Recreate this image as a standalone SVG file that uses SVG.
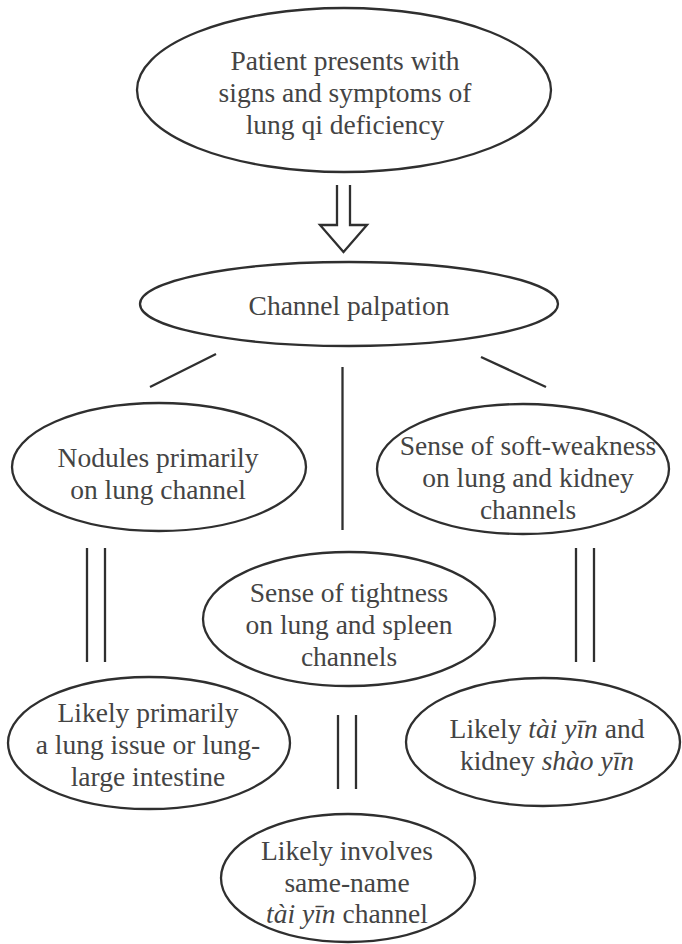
<svg xmlns="http://www.w3.org/2000/svg" width="682" height="944" viewBox="0 0 682 944">
  <style>
    .node ellipse { fill: #ffffff; stroke: #2f2f2f; stroke-width: 2.3; }
    .node text { font-family: "Liberation Serif", "Times New Roman", serif; font-size: 27.5px; fill: #444444; text-anchor: middle; }
    .it { font-style: italic; }
    .link { stroke: #2f2f2f; stroke-width: 2.3; fill: none; }
  </style>
  <rect width="682" height="944" fill="#ffffff"/>

  <!-- connectors -->
  <g id="connectors">
    <path class="link" d="M337,185 V225 H320 L343.5,252 L367,225 H350 V185"/>
    <line class="link" x1="216" y1="354" x2="150" y2="387"/>
    <line class="link" x1="342.5" y1="367" x2="342.5" y2="530"/>
    <line class="link" x1="481" y1="357" x2="546" y2="387"/>
    <line class="link" x1="87" y1="548" x2="87" y2="662"/>
    <line class="link" x1="105" y1="548" x2="105" y2="662"/>
    <line class="link" x1="576" y1="548" x2="576" y2="662"/>
    <line class="link" x1="594" y1="548" x2="594" y2="662"/>
    <line class="link" x1="338" y1="715" x2="338" y2="789"/>
    <line class="link" x1="356" y1="715" x2="356" y2="789"/>
  </g>

  <g id="patient" class="node">
    <ellipse cx="344" cy="90" rx="207" ry="82"/>
    <text x="345" y="70">Patient presents with</text>
    <text x="345" y="102">signs and symptoms of</text>
    <text x="345" y="134">lung qi deficiency</text>
  </g>

  <g id="palpation" class="node">
    <ellipse cx="349" cy="304" rx="209" ry="42"/>
    <text x="349" y="315">Channel palpation</text>
  </g>

  <g id="nodules" class="node">
    <ellipse cx="159" cy="467" rx="147" ry="64"/>
    <text x="158" y="467">Nodules primarily</text>
    <text x="158" y="499">on lung channel</text>
  </g>

  <g id="soft-weakness" class="node">
    <ellipse cx="523" cy="469" rx="146" ry="65"/>
    <text x="528" y="455">Sense of soft-weakness</text>
    <text x="528" y="487">on lung and kidney</text>
    <text x="528" y="519">channels</text>
  </g>

  <g id="tightness" class="node">
    <ellipse cx="349" cy="619" rx="146" ry="67"/>
    <text x="349" y="602">Sense of tightness</text>
    <text x="349" y="634">on lung and spleen</text>
    <text x="349" y="666">channels</text>
  </g>

  <g id="lung-issue" class="node">
    <ellipse cx="149" cy="743" rx="141" ry="66"/>
    <text x="148" y="722">Likely primarily</text>
    <text x="148" y="754">a lung issue or lung-</text>
    <text x="148" y="786">large intestine</text>
  </g>

  <g id="taiyin-shaoyin" class="node">
    <ellipse cx="543" cy="742" rx="137" ry="64"/>
    <text x="547" y="738">Likely <tspan class="it">tài yīn</tspan> and</text>
    <text x="547" y="770">kidney <tspan class="it">shào yīn</tspan></text>
  </g>

  <g id="same-name" class="node">
    <ellipse cx="348" cy="878" rx="127" ry="64"/>
    <text x="347" y="860">Likely involves</text>
    <text x="347" y="892">same-name</text>
    <text x="347" y="923"><tspan class="it">tài yīn</tspan> channel</text>
  </g>
</svg>
